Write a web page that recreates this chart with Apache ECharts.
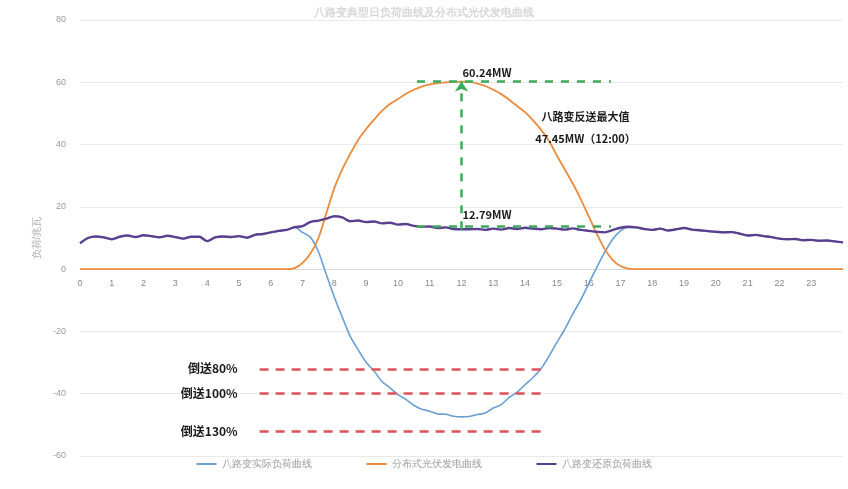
<!DOCTYPE html>
<html><head><meta charset="utf-8">
<script src="https://cdn.jsdelivr.net/npm/echarts@6/dist/echarts.min.js"></script>
<style>html,body{margin:0;padding:0;background:#fff}#c{width:848px;height:489px}</style>
</head><body><div id="c"></div>
<script>
// 15-minute samples, 0:00 .. 24:00 (97 points)
const hourTicks = [0,1,2,3,4,5,6,7,8,9,10,11,12,13,14,15,16,17,18,19,20,21,22,23];
const stepsPerHour = 4;

const restoredLoad = [ // 八路变还原负荷曲线 (purple)
  8.3,10.0,10.5,10.2, 9.6,10.4,10.8,10.3, 10.9,10.6,10.2,10.7, 10.3,9.8,10.4,10.4,
  9.0,10.2,10.5,10.3, 10.6,10.1,11.0,11.3, 11.8,12.3,12.6,13.5, 13.8,15.2,15.6,16.2,
  17.0,16.6,15.4,15.6, 15.1,15.3,14.7,14.9, 14.3,14.5,13.9,13.6, 13.7,13.2,13.4,12.9,
  12.79,12.8,12.9,12.6, 13.0,12.7,13.2,12.9, 13.3,13.0,12.8,13.2, 13.0,12.7,13.1,12.6,
  12.3,12.0,11.8,12.5, 13.3,13.6,13.4,12.9, 12.6,13.0,12.4,12.8, 13.2,12.7,12.5,12.2,
  12.0,11.8,11.9,11.4, 10.8,11.0,10.6,10.3, 9.8,9.6,9.7,9.3, 9.4,9.1,9.2,8.9, 8.6
];
const pvOutput = [ // 分布式光伏发电曲线 (orange)
  0,0,0,0, 0,0,0,0, 0,0,0,0, 0,0,0,0, 0,0,0,0, 0,0,0,0, 0,0,0,0.3,
  2,5,10,18, 26,32,37,41.5, 45,48,50.8,53, 54.6,56.3,57.6,58.6, 59.3,59.7,60,60.15,
  60.24,60.1,59.6,58.8, 57.6,56.2,54.4,52.4, 50.4,47.8,44.8,41.2, 36.5,32,27.5,22.5,
  17,11.5,6.5,3, 1,0.2,0,0, 0,0,0,0, 0,0,0,0, 0,0,0,0, 0,0,0,0, 0,0,0,0, 0,0,0,0, 0
];
const actualLoad = [ // 八路变实际负荷曲线 (blue)
  8.3,10.0,10.5,10.2, 9.6,10.4,10.8,10.3, 10.9,10.6,10.2,10.7, 10.3,9.8,10.4,10.4,
  9.0,10.2,10.5,10.3, 10.6,10.1,11.0,11.3, 11.8,12.3,12.6,13.5, 11.8,10.2,5.6,-1.8,
  -9.0,-15.4,-21.6,-25.9, -29.9,-32.7,-36.1,-38.1, -40.3,-41.8,-43.7,-45.0, -45.6,-46.5,-46.6,-47.25,
  -47.45,-47.3,-46.7,-46.2, -44.6,-43.5,-41.2,-39.5, -37.1,-34.8,-32.0,-28.0, -23.5,-19.3,-14.4,-9.9,
  -4.7,0.5,5.3,9.5, 12.3,13.4,13.4,12.9, 12.6,13.0,12.4,12.8, 13.2,12.7,12.5,12.2,
  12.0,11.8,11.9,11.4, 10.8,11.0,10.6,10.3, 9.8,9.6,9.7,9.3, 9.4,9.1,9.2,8.9, 8.6
];
const seriesNames = ['八路变实际负荷曲线','分布式光伏发电曲线','八路变还原负荷曲线'];
const peakPV = 60.24, peakHour = 12, loadAtPeak = 12.79, reverseMax = 47.45;
const reverseLevels = [-32, -40, -52];
const reverseLabels = ['倒送80%', '倒送100%', '倒送130%'];
const reverseSpan = [5.65, 14.7];
const greenSpan = [10.6, 16.7];
const yMin = -60, yMax = 80;

const times = restoredLoad.map((_, i) => i / stepsPerHour);
const pairs = arr => arr.map((v, i) => [times[i], v]);

const chart = echarts.init(document.getElementById('c'));
const txt = {color:'#1a1a1a', fontWeight:'bold', fontFamily:'"Noto Sans CJK SC", serif', fontSize:11};
chart.setOption({
  animation:false,
  title:{text:'八路变典型日负荷曲线及分布式光伏发电曲线', left:'center', top:2,
    textStyle:{color:'#d8d8d8', fontSize:11, fontWeight:'bold'}},
  grid:{left:80, right:5, top:20, bottom:33},
  legend:{data:seriesNames, bottom:15, itemGap:55, itemWidth:20, itemHeight:2, icon:'rect',
    textStyle:{color:'#9a9a9a', fontSize:10}},
  xAxis:{type:'value', min:0, max:24, interval:1, position:'bottom',
    axisLine:{onZero:false, lineStyle:{color:'#d9d9d9'}}, axisTick:{show:false},
    splitLine:{show:false},
    axisLabel:{color:'#888', fontSize:9, margin:10, formatter:v => hourTicks.includes(v) ? String(v) : ''}},
  yAxis:{type:'value', min:yMin, max:yMax, interval:20,
    name:'负荷/兆瓦', nameLocation:'middle', nameRotate:90, nameGap:36,
    nameTextStyle:{color:'#aaa', fontSize:10},
    axisLine:{show:false, onZero:false}, axisTick:{show:false},
    axisLabel:{color:'#999', fontSize:9, margin:14},
    splitLine:{lineStyle:{color:'#e9e9e9'}}},
  series:[
    {name:seriesNames[0], type:'line', data:pairs(actualLoad), symbol:'none', smooth:0.25,
      lineStyle:{color:'#6a9fd4', width:1.6}, itemStyle:{color:'#6a9fd4'}, z:2,
      markLine:{silent:true, symbol:'none',
        lineStyle:{color:'#e2505a', type:[9,7], width:2.5},
        label:{position:'start', distance:22, formatter:p => p.name, ...txt, fontSize:12},
        data: reverseLevels.map((lv, k) => [
          {name:reverseLabels[k], coord:[reverseSpan[0], lv]},
          {coord:[reverseSpan[1], lv]}])}},
    {name:seriesNames[1], type:'line', data:pairs(pvOutput), symbol:'none', smooth:0.25,
      lineStyle:{color:'#ec8a3c', width:1.8}, itemStyle:{color:'#ec8a3c'}, z:3,
      markLine:{silent:true, symbol:'none', label:{show:false},
        lineStyle:{color:'#3caa5a', type:[8,8], width:2.5},
        data:[
          [{coord:[greenSpan[0], peakPV]}, {coord:[greenSpan[1], peakPV]}],
          [{coord:[greenSpan[0], loadAtPeak + 1]}, {coord:[greenSpan[1], loadAtPeak + 1]}],
          [{coord:[peakHour, loadAtPeak], symbol:'none'}, {coord:[peakHour, peakPV], symbol:'arrow', symbolSize:10}]
        ]},
      markPoint:{silent:true, symbol:'circle', symbolSize:0,
        data:[
          {coord:[peakHour, peakPV], label:{show:true, position:'right', offset:[-4,-9], formatter:peakPV.toFixed(2)+'MW', ...txt}},
          {coord:[peakHour, loadAtPeak], label:{show:true, position:'right', offset:[-4,-14], formatter:loadAtPeak.toFixed(2)+'MW', ...txt}},
          {coord:[15.9, 45.3], label:{show:true, position:'inside', lineHeight:22,
            formatter:'八路变反送最大值\n'+reverseMax.toFixed(2)+'MW（12:00）', ...txt}}
        ]}},
    {name:seriesNames[2], type:'line', data:pairs(restoredLoad), symbol:'none', smooth:0.3,
      lineStyle:{color:'#5b3f8f', width:2.4}, itemStyle:{color:'#5b3f8f'}, z:4}
  ]
});
// move the x axis onto the y = 0 line
const yZeroPx = chart.convertToPixel({yAxisIndex:0}, 0);
const yBottomPx = chart.convertToPixel({yAxisIndex:0}, yMin);
chart.setOption({xAxis:{offset: yZeroPx - yBottomPx}});
</script></body></html>
